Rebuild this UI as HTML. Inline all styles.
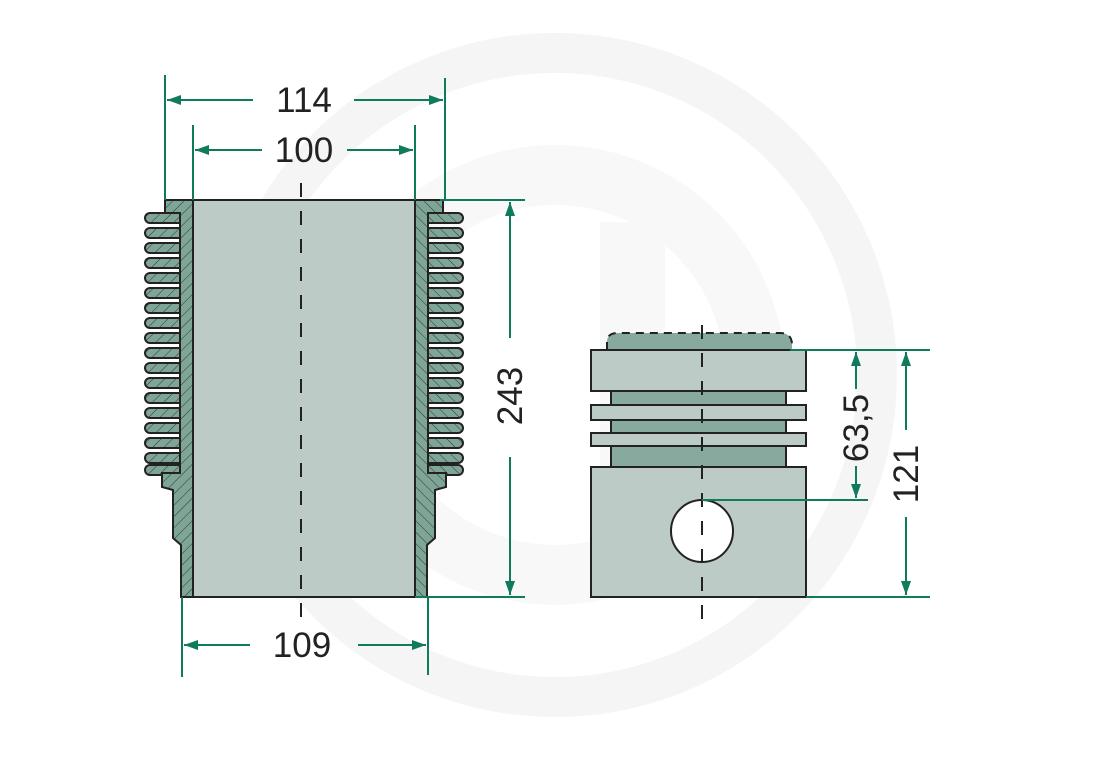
<!DOCTYPE html>
<html><head><meta charset="utf-8"><style>
html,body{margin:0;padding:0;background:#fff;}
svg{display:block;}
text{font-family:"Liberation Sans","DejaVu Sans",sans-serif;fill:#222;}
</style></head><body>
<svg width="1096" height="763" viewBox="0 0 1096 763" xmlns="http://www.w3.org/2000/svg">
<defs>
<pattern id="hatch" patternUnits="userSpaceOnUse" width="8" height="8" patternTransform="rotate(45)">
<rect width="8" height="8" fill="#7fa596"/>
<line x1="0" y1="0" x2="0" y2="8" stroke="#2a3a35" stroke-width="1"/>
</pattern>
<marker id="ar" viewBox="0 0 14 10" refX="14" refY="5" markerWidth="14" markerHeight="10" orient="auto-start-reverse" markerUnits="userSpaceOnUse">
<path d="M0,0 L14,5 L0,10 z" fill="#0f7a5c"/>
</marker>
<g id="wall">
<g fill="url(#hatch)" stroke="#222" stroke-width="2">
<rect x="145" y="213" width="42" height="10" rx="5"/>
<rect x="145" y="228" width="42" height="10" rx="5"/>
<rect x="145" y="243" width="42" height="10" rx="5"/>
<rect x="145" y="258" width="42" height="10" rx="5"/>
<rect x="145" y="273" width="42" height="10" rx="5"/>
<rect x="145" y="288" width="42" height="10" rx="5"/>
<rect x="145" y="303" width="42" height="10" rx="5"/>
<rect x="145" y="318" width="42" height="10" rx="5"/>
<rect x="145" y="333" width="42" height="10" rx="5"/>
<rect x="145" y="348" width="42" height="10" rx="5"/>
<rect x="145" y="363" width="42" height="10" rx="5"/>
<rect x="145" y="378" width="42" height="10" rx="5"/>
<rect x="145" y="393" width="42" height="10" rx="5"/>
<rect x="145" y="408" width="42" height="10" rx="5"/>
<rect x="145" y="423" width="42" height="10" rx="5"/>
<rect x="145" y="438" width="42" height="10" rx="5"/>
<rect x="145" y="453" width="42" height="10" rx="5"/>
<rect x="145" y="465" width="42" height="10" rx="5"/>
</g>
<path d="M165,200 H193 V597 H181 V545 L173,538 V490 L162,487 V473 H180 V213 H165 Z" fill="url(#hatch)" stroke="#222" stroke-width="2"/>
</g>
</defs>

<!-- watermark -->
<circle cx="555" cy="375" r="322" fill="none" stroke="#f5f5f5" stroke-width="40"/>
<circle cx="555" cy="375" r="200" fill="none" stroke="#f8f8f8" stroke-width="60"/>
<rect x="600" y="222" width="65" height="360" fill="#f8f8f8"/>

<!-- cylinder -->
<rect x="193" y="200" width="222" height="397" fill="#bccbc6" stroke="#222" stroke-width="2"/>
<use href="#wall"/>
<use href="#wall" transform="translate(608,0) scale(-1,1)"/>
<line x1="301" y1="183" x2="301" y2="625" stroke="#222" stroke-width="2" stroke-dasharray="14,14"/>

<!-- piston -->
<path d="M607,350 V342 Q607,333 618,333 H780 Q792,333 792,345 V350 Z" fill="#88a99d"/>
<path d="M607,350 V342 Q607,333 618,333 H780 Q792,333 792,345 V350" fill="none" stroke="#222" stroke-width="2" stroke-dasharray="8,6"/>
<rect x="611" y="391" width="175" height="76" fill="#88a99d" stroke="#222" stroke-width="2"/>
<rect x="591" y="350" width="215" height="41" fill="#bccbc6" stroke="#222" stroke-width="2"/>
<rect x="591" y="405" width="215" height="15" fill="#bccbc6" stroke="#222" stroke-width="2"/>
<rect x="591" y="433" width="215" height="13" fill="#bccbc6" stroke="#222" stroke-width="2"/>
<rect x="591" y="467" width="215" height="130" fill="#bccbc6" stroke="#222" stroke-width="2"/>
<circle cx="702" cy="531" r="31" fill="#fff" stroke="#222" stroke-width="2"/>
<line x1="702" y1="325" x2="702" y2="630" stroke="#222" stroke-width="2" stroke-dasharray="14,14"/>

<!-- dimensions -->
<g stroke="#0f7a5c" stroke-width="2" fill="none">
<line x1="165" y1="75" x2="165" y2="200"/>
<line x1="445" y1="78" x2="445" y2="200"/>
<line x1="253" y1="100" x2="167" y2="100" marker-end="url(#ar)"/>
<line x1="354" y1="100" x2="443" y2="100" marker-end="url(#ar)"/>
<line x1="193" y1="125" x2="193" y2="200"/>
<line x1="415" y1="125" x2="415" y2="200"/>
<line x1="262" y1="150" x2="195" y2="150" marker-end="url(#ar)"/>
<line x1="347" y1="150" x2="413" y2="150" marker-end="url(#ar)"/>
<line x1="182" y1="597" x2="182" y2="677"/>
<line x1="428" y1="597" x2="428" y2="675"/>
<line x1="250" y1="645" x2="184" y2="645" marker-end="url(#ar)"/>
<line x1="358" y1="645" x2="426" y2="645" marker-end="url(#ar)"/>
<line x1="440" y1="200" x2="525" y2="200"/>
<line x1="415" y1="597" x2="525" y2="597"/>
<line x1="510" y1="338" x2="510" y2="202" marker-end="url(#ar)"/>
<line x1="510" y1="457" x2="510" y2="595" marker-end="url(#ar)"/>
<line x1="790" y1="350" x2="930" y2="350"/>
<line x1="806" y1="597" x2="930" y2="597"/>
<line x1="702" y1="500" x2="868" y2="500"/>
<line x1="856" y1="389" x2="856" y2="352" marker-end="url(#ar)"/>
<line x1="856" y1="466" x2="856" y2="498" marker-end="url(#ar)"/>
<line x1="906" y1="430" x2="906" y2="352" marker-end="url(#ar)"/>
<line x1="906" y1="517" x2="906" y2="595" marker-end="url(#ar)"/>
</g>
<text x="304" y="112" font-size="35" text-anchor="middle">114</text>
<text x="304" y="162" font-size="35" text-anchor="middle">100</text>
<text x="302" y="657" font-size="35" text-anchor="middle">109</text>
<text transform="translate(522,396) rotate(-90)" font-size="35" text-anchor="middle">243</text>
<text transform="translate(868,428) rotate(-90)" font-size="35" text-anchor="middle">63,5</text>
<text transform="translate(918,474) rotate(-90)" font-size="35" text-anchor="middle">121</text>
</svg>
</body></html>
